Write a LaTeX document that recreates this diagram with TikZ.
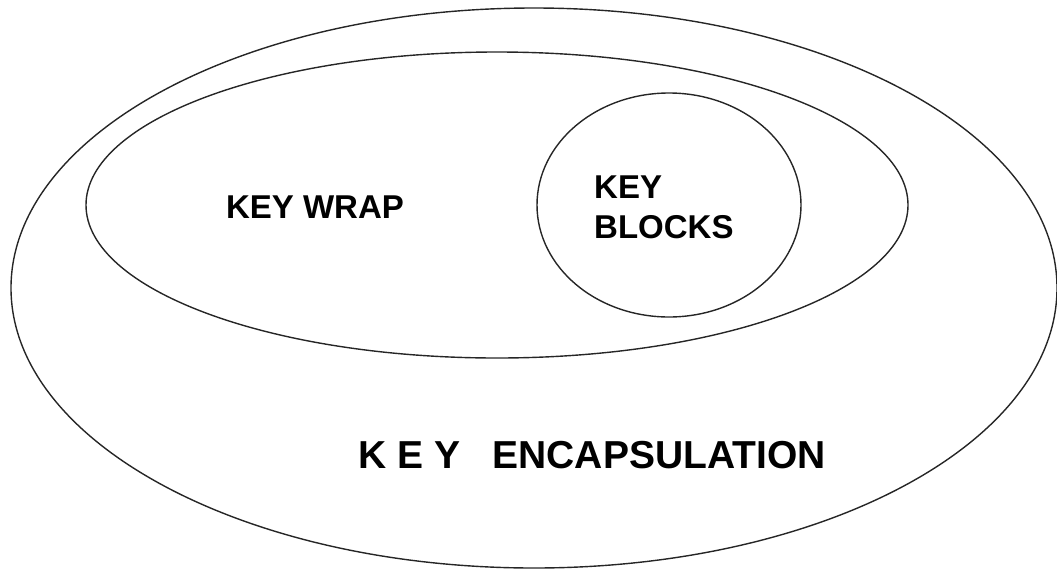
\documentclass[tikz,border=0pt]{standalone}
\usepackage{fontspec}
\setmainfont{Liberation Sans}
\begin{document}
\begin{tikzpicture}[x=1pt,y=-1pt,
  outline/.style={draw=black!85,line width=1.4pt},
  lbl/.style={inner sep=0pt,font=\bfseries\fontsize{33}{40}\selectfont},
  biglbl/.style={inner sep=0pt,font=\bfseries\fontsize{39}{46}\selectfont}]
\useasboundingbox (0,0) rectangle (1057,571);
\draw[outline] (534,288) ellipse [x radius=523pt, y radius=280pt];
\draw[outline] (497,205) ellipse [x radius=411pt, y radius=153pt];
\draw[outline] (669,205) ellipse [x radius=132pt, y radius=112pt];
\node[lbl,anchor=base] (wrap) at (315,218) {KEY WRAP};
\node[lbl,anchor=base west,align=left] (blocks) at (594,238) {KEY\\BLOCKS};
\node[biglbl,anchor=base west] (encap) at (358,468) {K E Y\ \ \ ENCAPSULATION};
\end{tikzpicture}
\end{document}
